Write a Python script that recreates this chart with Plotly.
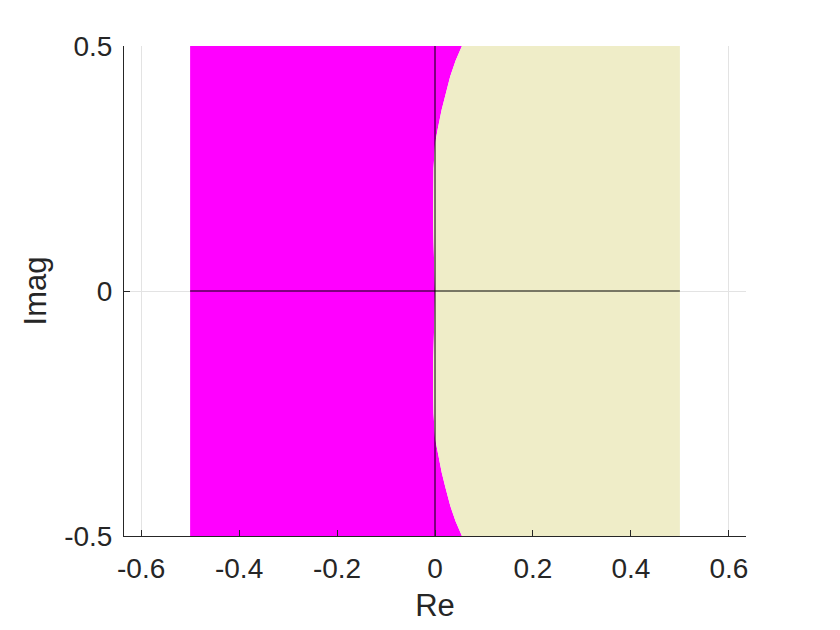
import plotly.graph_objects as go

# Region bounds on the real axis
re_left = -0.5
re_right = 0.5
imag_bottom = -0.5
imag_top = 0.5

# Boundary curve between the two regions, top to bottom
boundary_imag = [0.5, 0.47, 0.438, 0.40, 0.37, 0.33, 0.30, 0.25, 0.20, 0.15, 0.10, 0.05, 0.0,
                 -0.05, -0.10, -0.15, -0.20, -0.25, -0.30, -0.33, -0.37, -0.40, -0.438, -0.47, -0.5]
boundary_re = [0.055, 0.042, 0.031, 0.021, 0.0136, 0.0055, 0.0, -0.003, -0.004, -0.004, -0.003, -0.001, 0.0,
               -0.001, -0.003, -0.004, -0.004, -0.003, 0.0, 0.0055, 0.0136, 0.021, 0.031, 0.042, 0.055]

x_ticks = [-0.6, -0.4, -0.2, 0, 0.2, 0.4, 0.6]
x_tick_text = ["-0.6", "-0.4", "-0.2", "0", "0.2", "0.4", "0.6"]
y_ticks = [-0.5, 0, 0.5]
y_tick_text = ["-0.5", "0", "0.5"]

fig = go.Figure()

# Left (magenta) region
fig.add_trace(go.Scatter(
    x=[re_left, re_left] + boundary_re,
    y=[imag_bottom, imag_top] + boundary_imag,
    fill="toself", fillcolor="#FF00FF", mode="lines", line=dict(width=0),
    hoverinfo="skip", showlegend=False))

# Right (beige) region
fig.add_trace(go.Scatter(
    x=[re_right, re_right] + boundary_re,
    y=[imag_bottom, imag_top] + boundary_imag,
    fill="toself", fillcolor="#EFEDC8", mode="lines", line=dict(width=0),
    hoverinfo="skip", showlegend=False))

# Real and imaginary axis lines
fig.add_trace(go.Scatter(x=[re_left, re_right], y=[0, 0], mode="lines",
                         line=dict(color="black", width=1), hoverinfo="skip", showlegend=False))
fig.add_trace(go.Scatter(x=[0, 0], y=[imag_bottom, imag_top], mode="lines",
                         line=dict(color="black", width=1), hoverinfo="skip", showlegend=False))

font = "Liberation Sans, Arial, sans-serif"
fig.update_layout(
    width=840, height=630,
    margin=dict(l=116, r=102, t=38, b=102),
    paper_bgcolor="white", plot_bgcolor="white",
    font=dict(family=font, color="#262626", size=28),
    xaxis=dict(range=[-0.635, 0.635], tickvals=x_ticks, ticktext=x_tick_text,
               showgrid=True, gridcolor="#E3E3E3", gridwidth=1, zeroline=False,
               showline=True, linecolor="#262626", linewidth=1,
               ticks="inside", ticklen=6, tickcolor="#262626",
               ticklabelstandoff=7,
               title=dict(text="Re", font=dict(size=31), standoff=11)),
    yaxis=dict(range=[-0.5, 0.5], tickvals=y_ticks, ticktext=y_tick_text,
               showgrid=True, gridcolor="#E3E3E3", gridwidth=1, zeroline=False,
               showline=True, linecolor="#262626", linewidth=1,
               ticks="inside", ticklen=6, tickcolor="#262626",
               ticklabelstandoff=5,
               title=dict(text="Imag", font=dict(size=31), standoff=8)),
)

fig.write_html("out.html")
